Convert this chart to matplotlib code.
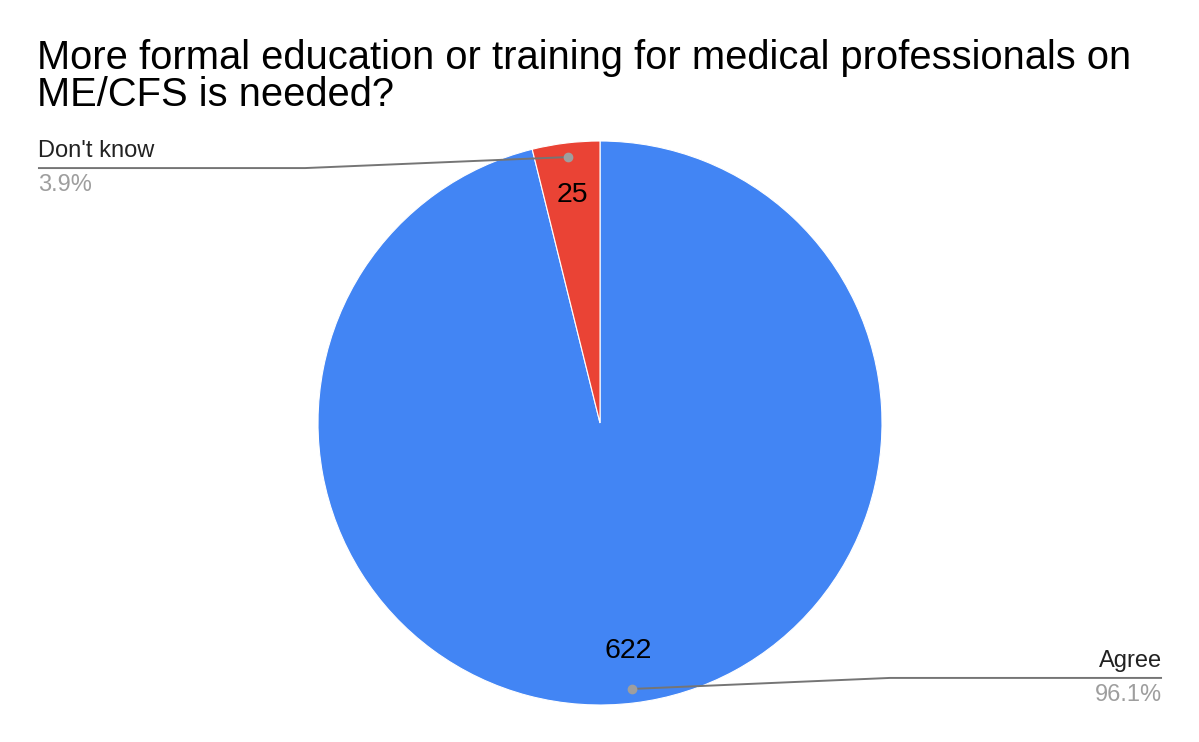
import numpy as np
import matplotlib
matplotlib.use("Agg")
import matplotlib.pyplot as plt

plt.rcParams['font.family'] = ['Liberation Sans', 'DejaVu Sans']

title = "More formal education or training for medical professionals on\nME/CFS is needed?"
labels = ["Agree", "Don't know"]
values = [622, 25]
colors = ["#4285F4", "#EA4335"]

W, H = 1199, 742
fig = plt.figure(figsize=(W / 100, H / 100), dpi=100)

cx, cy, R = 600, 423, 282  # pixel layout of pie
ax = fig.add_axes([(cx - R) / W, (H - cy - R) / H, 2 * R / W, 2 * R / H])
wedges, _ = ax.pie(values, colors=colors, startangle=90, counterclock=False,
                   radius=1.0, wedgeprops=dict(edgecolor='white', linewidth=0.8))
ax.set_xlim(-1, 1)
ax.set_ylim(-1, 1)
ax.set_aspect('equal')
ax.axis('off')

total = sum(values)
# value labels inside
for w, v in zip(wedges, values):
    ang = np.deg2rad((w.theta1 + w.theta2) / 2)
    r = 0.815
    ax.text(r * np.cos(ang), r * np.sin(ang), str(v), ha='center', va='center',
            fontsize=20.5, color='black')

# leader lines and outside labels
line_col = '#757575'
specs = {
    "Don't know": dict(ly=0.904, xa=-1.993, xb=-1.046, ha='left'),
    "Agree": dict(ly=-0.904, xa=1.993, xb=1.028, ha='right'),
}
for w, lab, v in zip(wedges, labels, values):
    s = specs[lab]
    ang = np.deg2rad((w.theta1 + w.theta2) / 2)
    dx, dy = 0.95 * np.cos(ang), 0.95 * np.sin(ang)
    ax.plot([s['xa'], s['xb'], dx], [s['ly'], s['ly'], dy], color=line_col,
            lw=1.4, clip_on=False, solid_capstyle='butt')
    ax.plot([dx], [dy], 'o', color='#9e9e9e', ms=6, clip_on=False, zorder=5)
    ax.text(s['xa'], s['ly'] + 0.02, lab, ha=s['ha'], va='bottom',
            fontsize=17, color='#222222', clip_on=False)
    ax.text(s['xa'], s['ly'] - 0.02, f"{100 * v / total:.1f}%", ha=s['ha'], va='top',
            fontsize=17, color='#9e9e9e', clip_on=False)

fig.text(37 / W, 1 - 39 / H, title, ha='left', va='top', fontsize=28.7,
         color='black', linespacing=0.97)

fig.savefig("out.png", dpi=100, facecolor='white')
